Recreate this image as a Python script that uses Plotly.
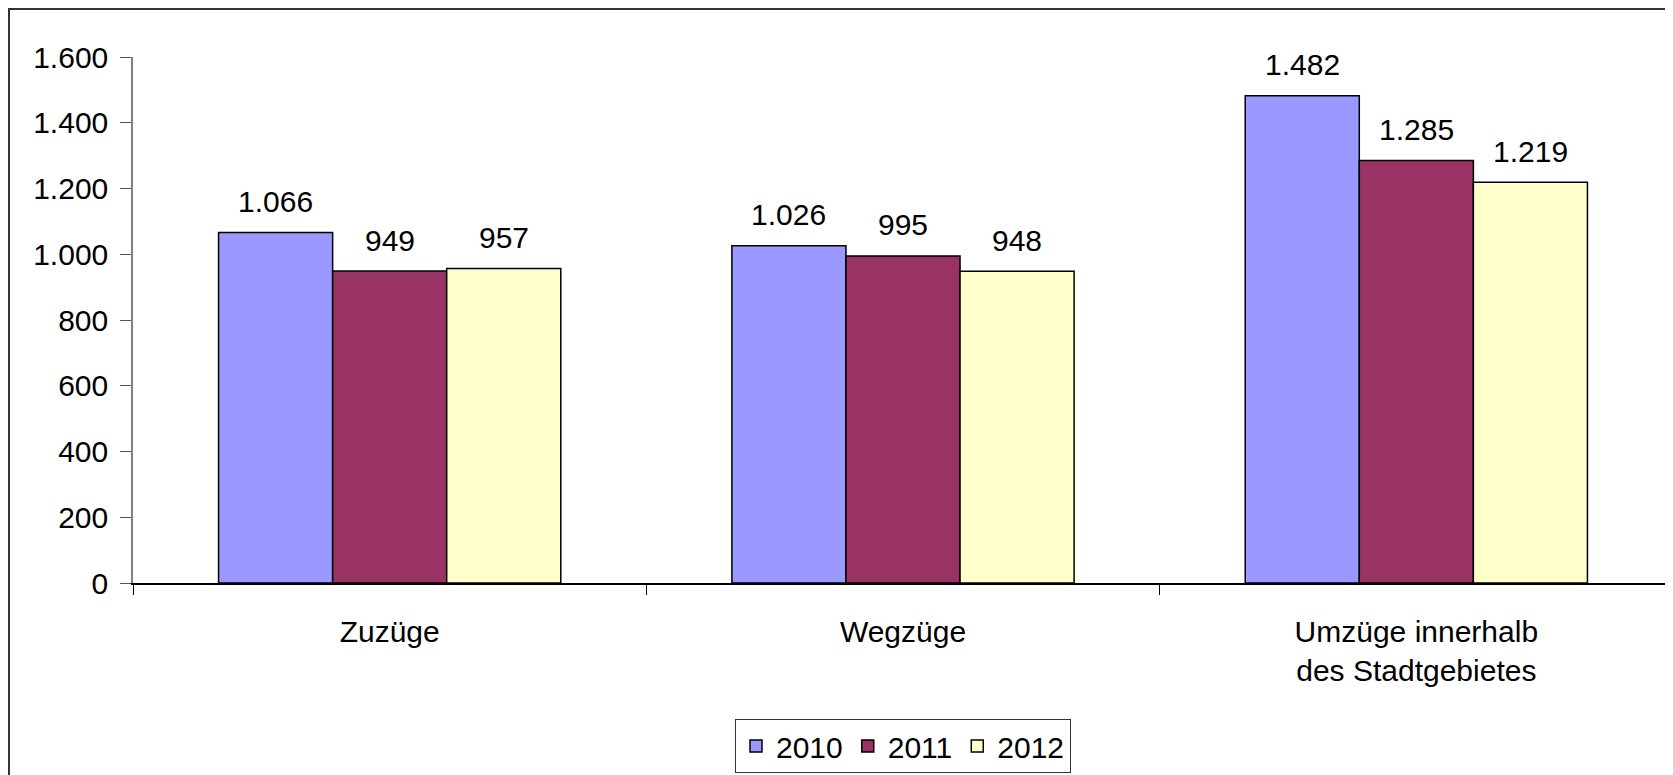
import plotly.graph_objects as go

categories = ["Zuzüge", "Wegzüge", "Umzüge innerhalb<br>des Stadtgebietes"]
years = ["2010", "2011", "2012"]
values_2010 = [1066, 1026, 1482]
values_2011 = [949, 995, 1285]
values_2012 = [957, 948, 1219]
colors = ["#9999FF", "#993366", "#FFFFCC"]
y_ticks = [0, 200, 400, 600, 800, 1000, 1200, 1400, 1600]

# the page body has an 8px margin, so the figure is offset by 8px
W, H = 1665, 767
L, R, T, B = 125, 0, 49, 192
FONT = "Liberation Sans, Arial, sans-serif"
FS = 30

series = [values_2010, values_2011, values_2012]

fig = go.Figure()
for name, vals, col in zip(years, series, colors):
    fig.add_trace(go.Bar(
        x=categories, y=vals, name=name,
        marker=dict(color=col, line=dict(color="#000000", width=1.5)),
    ))

def fmt(v):
    return f"{v:,}".replace(",", ".")

plot_w = W - L - R
plot_h = H - T - B
cat_w = plot_w / len(categories)
bar_w = cat_w * (2 / 3) / len(years)
for i, vals in enumerate(series):
    for c, v in zip(categories, vals):
        fig.add_annotation(
            x=c, y=v, text=fmt(v), showarrow=False,
            xshift=(i - 1) * bar_w, yshift=31,
            font=dict(family=FONT, size=FS, color="#000000"),
        )

fig.add_shape(
    type="rect", xref="paper", yref="paper",
    x0=(1 - L) / plot_w, x1=(W + 20 - L) / plot_w,
    y0=-(B + 20) / plot_h, y1=(plot_h + T - 1) / plot_h,
    line=dict(color="#333333", width=2), fillcolor="rgba(0,0,0,0)",
    layer="below",
)

fig.update_layout(
    width=W, height=H,
    margin=dict(l=L, r=R, t=T, b=B, autoexpand=False),
    paper_bgcolor="white", plot_bgcolor="white",
    barmode="group", bargap=1 / 3, bargroupgap=0,
    separators=",.",
    font=dict(family=FONT, size=FS, color="#000000"),
    showlegend=True,
    legend=dict(
        orientation="h", x=0.5, xanchor="center",
        y=(575 - 711) / plot_h, yanchor="top",
        bordercolor="#333333", borderwidth=1,
        font=dict(family=FONT, size=FS, color="#000000"),
        traceorder="normal",
    ),
)
fig.update_xaxes(
    showline=True, linecolor="#000000", linewidth=1.5,
    ticks="outside", tickson="boundaries", ticklen=10, tickcolor="#000000",
    showgrid=False, ticklabelstandoff=21, automargin=False,
    tickfont=dict(family=FONT, size=FS),
)
fig.update_yaxes(
    range=[0, 1600], tickvals=y_ticks, tickformat=",d",
    showline=True, linecolor="#808080", linewidth=1.5,
    ticks="outside", ticklen=11, tickcolor="#555555",
    showgrid=False, zeroline=False, ticklabelstandoff=6, automargin=False,
    tickfont=dict(family=FONT, size=FS),
)

fig.write_html("out.html")
